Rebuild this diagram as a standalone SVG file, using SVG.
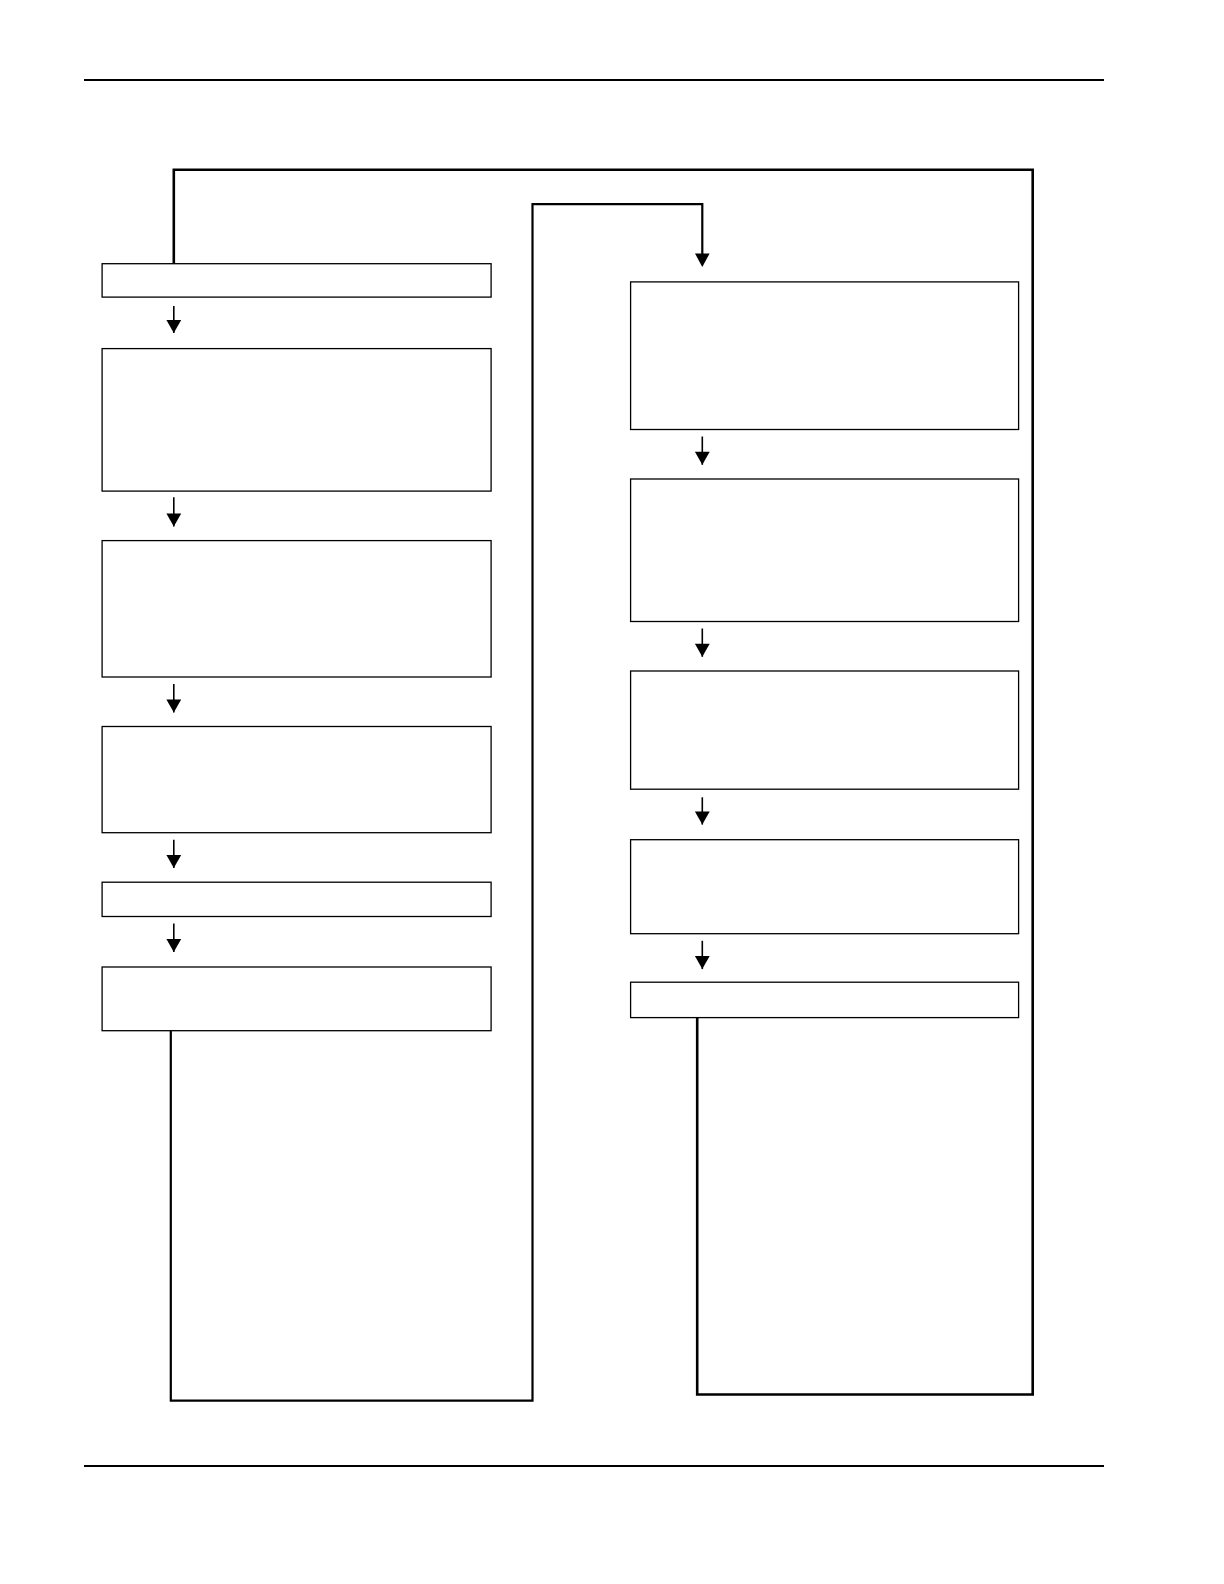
<svg xmlns="http://www.w3.org/2000/svg" width="1224" height="1584" viewBox="0 0 1224 1584">
<style>
.box{fill:#fff;stroke:#000;stroke-width:1.3}
.rule{stroke:#000;stroke-width:2;fill:none}
.loop{stroke:#000;stroke-width:2.6;fill:none}
.loop2{stroke:#000;stroke-width:2.2;fill:none}
.arr{stroke:#000;stroke-width:1.6;fill:none}
</style>
<defs>
<marker id="ahd" markerUnits="userSpaceOnUse" markerWidth="16" markerHeight="16" viewBox="0 0 16 16" refX="14" refY="8" orient="auto">
<path d="M1,0.6 L14,8 L1,15.4 Z" fill="#000"/>
</marker>
</defs>
<rect width="1224" height="1584" fill="#fff"/>
<g id="rules">
<line class="rule" x1="84" y1="80" x2="1104" y2="80"/>
<line class="rule" x1="84" y1="1466" x2="1104" y2="1466"/>
</g>
<g id="connectors">
<path class="loop" d="M697.2,1017.6 L697.2,1394.5 L1032.7,1394.5 L1032.7,169.8 L173.8,169.8 L173.8,263.7"/>
<path class="loop2" d="M170.8,1030.7 L170.8,1400.6 L532.5,1400.6 L532.5,204.1 L702.3,204.1 L702.3,254"/>
<path d="M695,253.5 L709.6,253.5 L702.3,267 Z" fill="#000"/>
<line class="arr" x1="173.8" y1="306" x2="173.8" y2="333" marker-end="url(#ahd)"/>
<line class="arr" x1="173.8" y1="497.2" x2="173.8" y2="526.5" marker-end="url(#ahd)"/>
<line class="arr" x1="173.8" y1="684.1" x2="173.8" y2="712.4" marker-end="url(#ahd)"/>
<line class="arr" x1="173.8" y1="839.7" x2="173.8" y2="868" marker-end="url(#ahd)"/>
<line class="arr" x1="173.8" y1="923.6" x2="173.8" y2="951.9" marker-end="url(#ahd)"/>
<line class="arr" x1="702.3" y1="436.5" x2="702.3" y2="464.8" marker-end="url(#ahd)"/>
<line class="arr" x1="702.3" y1="628.5" x2="702.3" y2="656.8" marker-end="url(#ahd)"/>
<line class="arr" x1="702.3" y1="797.3" x2="702.3" y2="824.6" marker-end="url(#ahd)"/>
<line class="arr" x1="702.3" y1="940.8" x2="702.3" y2="969.1" marker-end="url(#ahd)"/>
</g>
<g id="L1"><rect class="box" x="102.1" y="263.7" width="389" height="33.4"/></g>
<g id="L2"><rect class="box" x="102.1" y="348.6" width="389" height="142.5"/></g>
<g id="L3"><rect class="box" x="102.1" y="540.6" width="389" height="136.4"/></g>
<g id="L4"><rect class="box" x="102.1" y="726.5" width="389" height="106.2"/></g>
<g id="L5"><rect class="box" x="102.1" y="882.2" width="389" height="34.3"/></g>
<g id="L6"><rect class="box" x="102.1" y="967" width="389" height="63.7"/></g>
<g id="R1"><rect class="box" x="630.6" y="281.9" width="388" height="147.6"/></g>
<g id="R2"><rect class="box" x="630.6" y="479" width="388" height="142.5"/></g>
<g id="R3"><rect class="box" x="630.6" y="671" width="388" height="118.2"/></g>
<g id="R4"><rect class="box" x="630.6" y="839.7" width="388" height="94"/></g>
<g id="R5"><rect class="box" x="630.6" y="982.2" width="388" height="35.4"/></g>
</svg>
